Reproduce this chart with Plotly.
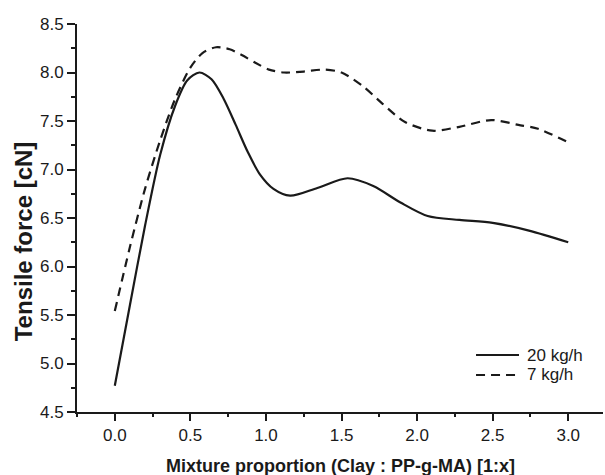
import plotly.graph_objects as go

# 20 kg/h (solid)
x_20 = [0.0, 0.1, 0.2, 0.3, 0.4, 0.48, 0.56, 0.64, 0.72, 0.8, 0.88, 0.96, 1.05, 1.16, 1.34, 1.54, 1.71, 1.89, 2.07, 2.28, 2.5, 2.74, 3.0]
y_20 = [4.77, 5.6, 6.42, 7.15, 7.66, 7.92, 8.0, 7.93, 7.73, 7.46, 7.18, 6.95, 6.8, 6.73, 6.81, 6.91, 6.83, 6.66, 6.52, 6.48, 6.45, 6.37, 6.25]

# 7 kg/h (dashed)
x_7 = [0.0, 0.1, 0.2, 0.3, 0.4, 0.5, 0.58, 0.67, 0.76, 0.84, 0.93, 1.02, 1.12, 1.25, 1.39, 1.5, 1.64, 1.77, 1.92, 2.1, 2.28, 2.49, 2.67, 2.8, 3.0]
y_7 = [5.54, 6.2, 6.8, 7.3, 7.73, 8.05, 8.2, 8.26, 8.24, 8.18, 8.1, 8.03, 8.0, 8.01, 8.03, 8.0, 7.86, 7.68, 7.49, 7.40, 7.44, 7.51, 7.46, 7.42, 7.28]

x_ticks = [0.0, 0.5, 1.0, 1.5, 2.0, 2.5, 3.0]
y_ticks = [4.5, 5.0, 5.5, 6.0, 6.5, 7.0, 7.5, 8.0, 8.5]

series_names = ["20 kg/h", "7 kg/h"]
x_title = "Mixture proportion (Clay : PP-g-MA) [1:x]"
y_title = "Tensile force [cN]"

INK = "#1a1a1a"
FONT = "Liberation Sans"
DASH = "9px,6px"

fig = go.Figure()
fig.add_trace(go.Scatter(x=x_20, y=y_20, mode="lines", name=series_names[0],
                         line=dict(color=INK, width=2.2, shape="spline", smoothing=0.8)))
fig.add_trace(go.Scatter(x=x_7, y=y_7, mode="lines", name=series_names[1],
                         line=dict(color=INK, width=2.2, shape="spline", smoothing=0.8, dash=DASH)))

xr = [-0.25, 3.23]
yr = [4.5, 8.5]

common = dict(showgrid=False, zeroline=False, showline=True, linecolor=INK, linewidth=2,
              tickwidth=2, tickcolor=INK)

# legend drawn as line samples + text inside the plot area (paper coordinates)
leg_x0, leg_x1, leg_tx = 0.7586, 0.8403, 0.8536
leg_rows = [0.1469, 0.0954]
leg_dash = ["solid", DASH]
shapes = [dict(type="line", xref="paper", yref="paper", x0=leg_x0, x1=leg_x1, y0=ry, y1=ry,
               line=dict(color=INK, width=2, dash=d)) for ry, d in zip(leg_rows, leg_dash)]
leg_text = [dict(text=n, xref="paper", yref="paper", x=leg_tx, y=ry, xanchor="left", yanchor="middle",
                 showarrow=False, borderpad=0, font=dict(size=17, color=INK))
            for n, ry in zip(series_names, leg_rows)]

fig.update_layout(
    width=605, height=475,
    margin=dict(l=77, r=2, t=24, b=63),
    paper_bgcolor="white", plot_bgcolor="white",
    font=dict(family=FONT, color=INK, size=17),
    showlegend=False,
    xaxis=dict(range=xr, tickvals=x_ticks, ticktext=[f"{v:.1f}" for v in x_ticks],
               ticks="outside", ticklen=7,
               minor=dict(dtick=0.25, tick0=0, ticks="outside", ticklen=3, tickwidth=2, tickcolor=INK),
               tickfont=dict(size=17), **common),
    yaxis=dict(range=yr, tickvals=y_ticks, ticktext=[f"{v:.1f}" for v in y_ticks],
               ticks="outside", ticklen=8,
               minor=dict(dtick=0.25, tick0=4.5, ticks="outside", ticklen=4, tickwidth=2, tickcolor=INK),
               tickfont=dict(size=17), **common),
    xaxis2=dict(range=xr, overlaying="x", side="top", tickvals=x_ticks, showticklabels=False,
                ticks="inside", ticklen=8,
                minor=dict(dtick=0.25, tick0=0, ticks="inside", ticklen=4, tickwidth=2, tickcolor=INK),
                **common),
    yaxis2=dict(range=yr, overlaying="y", side="right", tickvals=y_ticks, showticklabels=False,
                ticks="inside", ticklen=8,
                minor=dict(dtick=0.25, tick0=4.5, ticks="inside", ticklen=4, tickwidth=2, tickcolor=INK),
                **common),
    shapes=shapes,
    annotations=[
        dict(text=f"<b>{x_title}</b>", xref="paper", yref="paper", x=0.5, y=-0.139,
             xanchor="center", yanchor="middle", showarrow=False, font=dict(size=18, color=INK)),
        dict(text=f"<b>{y_title}</b>", xref="paper", yref="y", x=-0.1027, y=6.26,
             xanchor="center", yanchor="middle", textangle=-90, showarrow=False,
             font=dict(size=24, color=INK)),
    ] + leg_text,
)

fig.write_html("out.html")
